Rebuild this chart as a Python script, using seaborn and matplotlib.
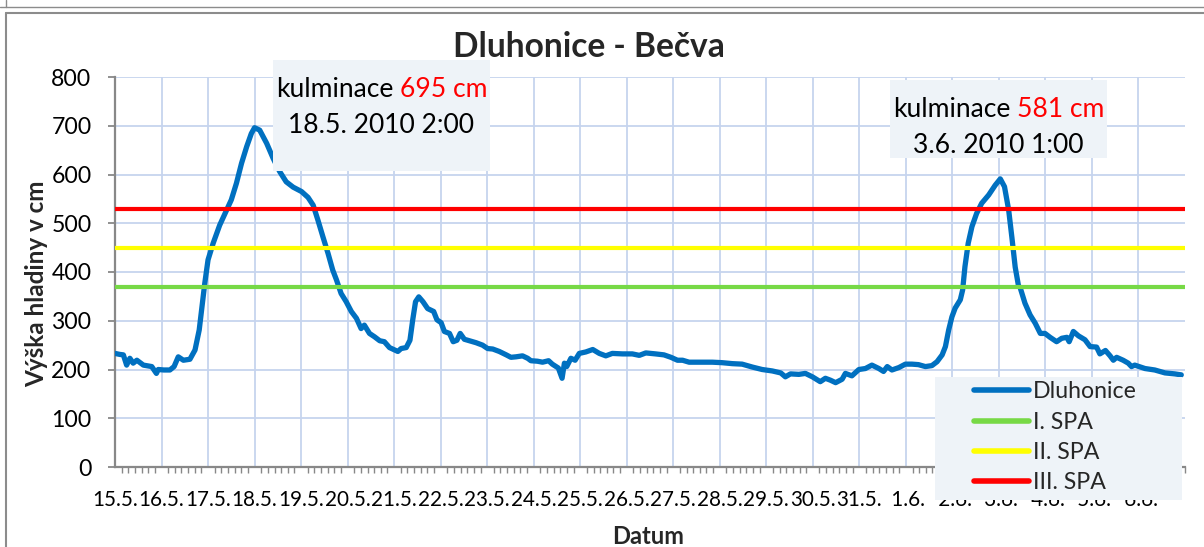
import matplotlib
matplotlib.use("Agg")
import matplotlib.pyplot as plt
import seaborn as sns
import pandas as pd
from matplotlib.patches import Rectangle
from matplotlib.lines import Line2D
from matplotlib.ticker import MultipleLocator

# ---------------- data ----------------
time_days = [
    0.00, 0.10, 0.18, 0.25, 0.32, 0.39, 0.47, 0.61, 0.79, 0.89, 0.93, 1.05, 1.18, 1.27,
    1.36, 1.47, 1.61, 1.72, 1.81, 1.88, 1.93, 2.00, 2.11, 2.25, 2.40, 2.50, 2.61, 2.72,
    2.83, 2.93, 3.00, 3.11, 3.26, 3.40, 3.54, 3.68, 3.83, 4.01, 4.15, 4.26, 4.36, 4.47,
    4.58, 4.68, 4.76, 4.86, 4.97, 5.08, 5.19, 5.29, 5.36, 5.47, 5.58, 5.69, 5.79, 5.90,
    6.01, 6.08, 6.15, 6.26, 6.34, 6.40, 6.46, 6.53, 6.62, 6.72, 6.85, 6.92, 7.01, 7.08,
    7.19, 7.27, 7.35, 7.42, 7.51, 7.62, 7.76, 7.90, 8.01, 8.12, 8.26, 8.41, 8.51, 8.62,
    8.76, 8.87, 8.94, 9.08, 9.19, 9.32, 9.40, 9.53, 9.61, 9.66, 9.71, 9.80, 9.89, 9.98,
    10.12, 10.27, 10.41, 10.55, 10.69, 10.91, 11.12, 11.27, 11.41, 11.62, 11.80, 11.95,
    12.09, 12.20, 12.34, 12.55, 12.84, 13.05, 13.27, 13.48, 13.70, 13.91, 14.13, 14.31,
    14.41, 14.52, 14.70, 14.84, 14.99, 15.16, 15.27, 15.38, 15.49, 15.63, 15.70, 15.84,
    15.99, 16.13, 16.27, 16.42, 16.52, 16.60, 16.70, 16.85, 16.99, 17.13, 17.27, 17.42,
    17.56, 17.67, 17.78, 17.85, 17.92, 17.99, 18.06, 18.17, 18.22, 18.27, 18.34, 18.42,
    18.52, 18.63, 18.78, 18.92, 19.03, 19.12, 19.21, 19.28, 19.35, 19.42, 19.46, 19.56,
    19.67, 19.78, 19.89, 19.99, 20.10, 20.24, 20.35, 20.46, 20.51, 20.60, 20.71, 20.85,
    20.96, 21.10, 21.17, 21.29, 21.39, 21.46, 21.53, 21.67, 21.78, 21.85, 21.92, 22.14,
    22.35, 22.57, 22.78, 22.92,
]
level_cm = [
    233, 231, 230, 209, 223, 213, 219, 209, 206, 192, 200, 199, 199, 206,
    226, 219, 221, 240, 281, 336, 377, 425, 459, 496, 527, 548, 582, 623,
    657, 684, 696, 691, 664, 633, 606, 585, 574, 565, 553, 537, 507, 472,
    438, 404, 384, 356, 339, 319, 305, 284, 291, 274, 267, 259, 257, 245,
    240, 237, 243, 245, 260, 302, 339, 349, 339, 325, 319, 302, 296, 278,
    274, 257, 260, 274, 262, 259, 255, 250, 243, 242, 237, 230, 225, 226,
    228, 223, 218, 217, 215, 218, 211, 203, 182, 213, 206, 223, 219, 233,
    236, 241, 233, 228, 233, 232, 232, 229, 234, 232, 230, 225,
    219, 219, 215, 215, 215, 214, 212, 211, 205, 200, 197, 193,
    185, 191, 190, 192, 185, 175, 182, 178, 173, 180, 192, 187,
    200, 202, 209, 202, 196, 206, 199, 204, 211, 211, 210, 206,
    208, 216, 230, 247, 281, 308, 326, 343, 363, 411, 459, 493,
    520, 541, 558, 578, 591, 575, 527, 470, 410, 372, 367, 336,
    312, 295, 274, 274, 266, 257, 264, 266, 257, 278, 269, 261,
    247, 246, 232, 239, 228, 219, 225, 219, 213, 206, 209, 202,
    199, 193, 191, 189,
]
series_name = "Dluhonice"
spa_names = ["I. SPA", "II. SPA", "III. SPA"]
spa_levels = [370, 450, 530]
day_labels = ["15.5.", "16.5.", "17.5.", "18.5.", "19.5.", "20.5.", "21.5.", "22.5.",
              "23.5.", "24.5.", "25.5.", "26.5.", "27.5.", "28.5.", "29.5.", "30.5.",
              "31.5.", " 1.6.", " 2.6.", " 3.6.", " 4.6.", " 5.6.", " 6.6."]
y_ticks = [0, 100, 200, 300, 400, 500, 600, 700, 800]
peak_texts = [("kulminace ", "695 cm", "18.5. 2010 2:00"),
              ("kulminace ", "581 cm", "3.6. 2010 1:00")]
title_text = "Dluhonice - Bečva"
ylabel_text = "Výška hladiny v cm"
xlabel_text = "Datum"

# ---------------- style ----------------
W, H = 1204, 547
BLUE = "#0070C0"
SPA_COLORS = ["#77D946", "#FFFF00", "#FF0000"]
GRID = "#C6D4EE"
AXC = "#888888"
BOXC = "#EEF3F8"

sns.set_theme(style="white")
plt.rcParams['font.family'] = ['Lato', 'DejaVu Sans']

fig = plt.figure(figsize=(W / 100, H / 100), dpi=100)
fig.patch.set_facecolor("white")
R = fig.canvas.get_renderer()


def fx(px):
    return px / W


def fy(py):
    return 1 - py / H


def fit(s, target_px, weight="normal", base=20.0):
    t = fig.text(0, 0, s, fontsize=base, fontweight=weight)
    w = t.get_window_extent(R).width
    t.remove()
    return base * target_px / w


fs_title = fit(title_text, 272, "bold")
fs_xtick = fit("16.5.", 45.5)
fs_ytick = fit("800", 40)
fs_ylab = fit(ylabel_text, 206, "bold")
fs_xlab = fit(xlabel_text, 72, "bold")
fs_ann = fit("kulminace 695 cm", 212)
fs_leg = fit("Dluhonice", 104)

ax = fig.add_axes([fx(115), fy(467), fx(1185) - fx(115), fy(77) - fy(467)])
ax.set_facecolor("white")

df = pd.DataFrame({"t": time_days, "v": level_cm})
sns.lineplot(data=df, x="t", y="v", ax=ax, color=BLUE, lw=3.8, label=series_name,
             zorder=3, solid_joinstyle="round", solid_capstyle="round")
for name, lvl, col in zip(spa_names, spa_levels, SPA_COLORS):
    ax.axhline(lvl, color=col, lw=3.0, label=name, zorder=4)

ax.set_xlim(0, len(day_labels))
ax.set_ylim(y_ticks[0], y_ticks[-1])
ax.set_xticks(range(len(day_labels)))
ax.set_xticklabels(day_labels)
ax.xaxis.set_minor_locator(MultipleLocator(1 / 7))
ax.set_yticks(y_ticks)
ax.set_xlabel("")
ax.set_ylabel("")

ax.grid(True, which="major", color=GRID, lw=1.3)
ax.set_axisbelow(True)
for s in ["top", "right"]:
    ax.spines[s].set_visible(False)
for s in ["left", "bottom"]:
    ax.spines[s].set_color(AXC)
    ax.spines[s].set_linewidth(1.6)

ax.tick_params(axis="x", which="major", direction="inout", length=9, width=1.3,
               color=AXC, labelsize=fs_xtick, pad=12, labelcolor="black")
ax.tick_params(axis="x", which="minor", direction="out", length=4, width=1.0,
               color=AXC, bottom=True)
ax.tick_params(axis="y", which="major", direction="out", length=5, width=1.3,
               color=AXC, labelsize=fs_ytick, pad=12, labelcolor="black", left=True)

# titles / labels
fig.text(fx(589), fy(57), title_text, ha="center", va="baseline",
         fontsize=fs_title, fontweight="bold")
fig.text(fx(37), fy(284), ylabel_text, ha="center", va="center",
         rotation=90, fontsize=fs_ylab, fontweight="bold")
fig.text(fx(648), fy(544), xlabel_text, ha="center", va="baseline",
         fontsize=fs_xlab, fontweight="bold")

# legend background box (drawn over tick labels, as in the reference)
ax.add_patch(Rectangle((fx(935), fy(500)), fx(1182) - fx(935), fy(377) - fy(500),
                       transform=fig.transFigure, facecolor=BOXC, edgecolor="none",
                       clip_on=False, zorder=4.5))


def make_legend(ls, y_anchor):
    lg = ax.legend(loc="upper left", bbox_to_anchor=(fx(974), fy(y_anchor)),
                   bbox_transform=fig.transFigure, frameon=False, fontsize=fs_leg,
                   handlelength=55 / (fs_leg * 100 / 72), handletextpad=4 / (fs_leg * 100 / 72),
                   labelspacing=ls, borderpad=0, borderaxespad=0)
    lg.set_zorder(5)
    for lh in lg.get_lines():
        lh.set_linewidth(4.0)
        lh.set_solid_capstyle("round")
    return lg


leg = make_legend(0.3, 382)
fig.canvas.draw()
tx = leg.get_texts()
c0 = tx[0].get_window_extent(R)
c3 = tx[-1].get_window_extent(R)
pitch = ((c0.y0 + c0.y1) / 2 - (c3.y0 + c3.y1) / 2) / 3
fs_px = fs_leg * 100 / 72
ls_new = 0.3 + (30.3 - pitch) / fs_px
leg.remove()
leg = make_legend(ls_new, 382)
fig.canvas.draw()
c0 = leg.get_texts()[0].get_window_extent(R)
cur_center = H - (c0.y0 + c0.y1) / 2
leg.remove()
leg = make_legend(ls_new, 382 + (392 - cur_center))

# annotation boxes
boxes = [(273, 60, 490, 171, 97, 133), (890, 80, 1107, 158, 117, 153)]
texts = []
for (x0, y0, x1, y1, l1, l2), (a, b, c) in zip(boxes, peak_texts):
    ax.add_patch(Rectangle((fx(x0), fy(y1)), fx(x1) - fx(x0), fy(y0) - fy(y1),
                           transform=fig.transFigure, facecolor=BOXC,
                           edgecolor="none", clip_on=False, zorder=6))
    cx = (x0 + x1) / 2
    t1 = fig.text(0, fy(l1), a.strip(), fontsize=fs_ann, va="baseline", ha="left",
                  color="black", zorder=7)
    t2 = fig.text(0, fy(l1), b, fontsize=fs_ann, va="baseline", ha="left",
                  color="#FF0000", zorder=7)
    tf = fig.text(0, fy(l1), a + b, fontsize=fs_ann, va="baseline", ha="left",
                  alpha=0)
    fig.text(fx(cx), fy(l2), c, fontsize=fs_ann, va="baseline", ha="center",
             color="black", zorder=7)
    texts.append((cx, t1, t2, tf))

fig.canvas.draw()
for cx, t1, t2, tf in texts:
    wf = tf.get_window_extent(R).width
    w2 = t2.get_window_extent(R).width
    left = cx - wf / 2
    t1.set_x(fx(left))
    t2.set_x(fx(left + wf - w2))
    tf.remove()

# outer frame lines
fig.add_artist(Line2D([0, 1], [fy(7), fy(7)], transform=fig.transFigure,
                      color="#8C8C8C", lw=1.0))
fig.add_artist(Line2D([fx(6), fx(6)], [1, fy(7)], transform=fig.transFigure,
                      color="#8C8C8C", lw=1.0))
fig.add_artist(Line2D([fx(6), 1], [fy(13), fy(13)], transform=fig.transFigure,
                      color="#8C8C8C", lw=1.5))
fig.add_artist(Line2D([fx(6), fx(6)], [0, fy(13)], transform=fig.transFigure,
                      color="#8C8C8C", lw=1.5))

fig.savefig("out.png", dpi=100, facecolor="white")
